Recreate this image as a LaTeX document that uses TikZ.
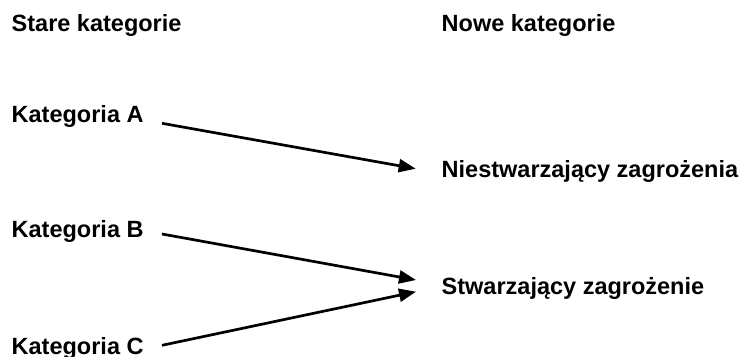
\documentclass[tikz,border=0pt]{standalone}
\usepackage{fontspec}
\setmainfont{Liberation Sans}
\usetikzlibrary{arrows.meta}
\begin{document}
\begin{tikzpicture}[x=1pt,y=-1pt,
  lbl/.style={anchor=base west,inner sep=0pt,font=\fontsize{23.5}{27}\selectfont\bfseries},
  arr/.style={line width=2.7pt,-{Triangle[length=17pt,width=13pt]}}]
\useasboundingbox (0,0) rectangle (744,356);
\node[lbl] (old) at (11.5,31) {Stare kategorie};
\node[lbl] (new) at (441.5,31) {Nowe kategorie};
\node[lbl] (ka) at (11.5,122.7) {Kategoria A};
\node[lbl] (kb) at (11.5,237.7) {Kategoria B};
\node[lbl] (kc) at (11.5,354.3) {Kategoria C};
\node[lbl] (nz) at (441.5,177.3) {Niestwarzający zagrożenia};
\node[lbl] (sz) at (441.5,294.3) {Stwarzający zagrożenie};
\coordinate (a1) at (162,123.3);
\coordinate (a2) at (415.7,168.7);
\coordinate (b1) at (162,234);
\coordinate (b2) at (416,280);
\coordinate (c1) at (162,345.3);
\coordinate (c2) at (416,291.7);
\draw[arr] (a1) -- (a2);
\draw[arr] (b1) -- (b2);
\draw[arr] (c1) -- (c2);
\end{tikzpicture}
\end{document}
